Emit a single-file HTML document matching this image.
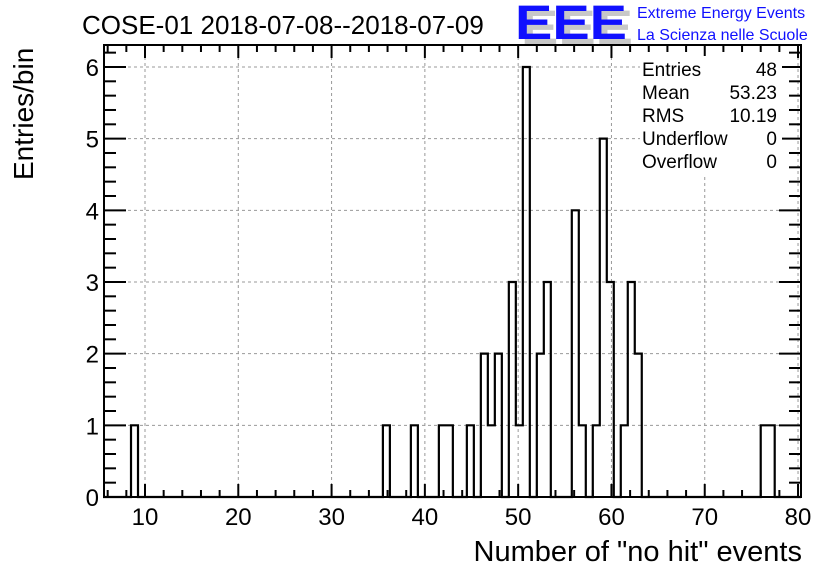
<!DOCTYPE html>
<html><head><meta charset="utf-8"><style>
body{margin:0;background:#fff;}
svg text{font-family:"Liberation Sans",sans-serif;}
</style></head><body>
<svg id="c" width="836" height="572" xmlns="http://www.w3.org/2000/svg">
<rect x="0" y="0" width="836" height="572" fill="#fff"/>
<g id="grid"></g>
<g id="bars"></g>
<g id="axes"></g>
<text x="82" y="34" font-size="26">COSE-01 2018-07-08--2018-07-09</text>
<g>
<text x="521" y="44" font-size="48" font-weight="bold" fill="#c8c8c8" textLength="112" lengthAdjust="spacingAndGlyphs">EEE</text>
<text x="515" y="39" font-size="48" font-weight="bold" fill="#1010ff" textLength="112" lengthAdjust="spacingAndGlyphs">EEE</text>
<text x="637" y="18" font-size="16" fill="#1010ff">Extreme Energy Events</text>
<text x="637" y="40" font-size="16" fill="#1010ff">La Scienza nelle Scuole</text>
</g>
<g>
<rect x="640" y="56" width="142" height="120" fill="#fff"/>
<text x="642" y="76" font-size="19">Entries</text><text x="777" y="76" font-size="19" text-anchor="end">48</text>
<text x="642" y="99" font-size="19">Mean</text><text x="777" y="99" font-size="19" text-anchor="end">53.23</text>
<text x="642" y="122" font-size="19">RMS</text><text x="777" y="122" font-size="19" text-anchor="end">10.19</text>
<text x="642" y="145" font-size="19">Underflow</text><text x="777" y="145" font-size="19" text-anchor="end">0</text>
<text x="642" y="168" font-size="19">Overflow</text><text x="777" y="168" font-size="19" text-anchor="end">0</text>
</g>
<text x="802" y="561" font-size="29" text-anchor="end">Number of "no hit" events</text>
<text transform="translate(33,180) rotate(-90)" font-size="28" text-anchor="start">Entries/bin</text>
</svg>
<script>
const binIndex = [4,40,44,48,49,52,54,55,56,58,59,60,62,63,67,68,70,71,72,74,75,76,94,95];
const binCounts = [1,1,1,1,1,1,2,1,2,3,1,6,2,3,4,1,1,5,3,1,3,2,1,1];
const xTicks = [10,20,30,40,50,60,70,80];
const yTicks = [0,1,2,3,4,5,6];
const binOrigin = 5.5, binWidth = 0.75, nBins = 100;

const L=104, R=801, T=45, B=497;
function X(v){return 145+(v-10)*9.329;}
function Y(v){return 497-v*71.67;}
const NS="http://www.w3.org/2000/svg";
function mk(tag,attrs,parent){const e=document.createElementNS(NS,tag);for(const k in attrs)e.setAttribute(k,attrs[k]);parent.appendChild(e);return e;}
const grid=document.getElementById('grid'),axes=document.getElementById('axes'),bars=document.getElementById('bars');
xTicks.forEach(t=>{const g=mk('line',{x1:X(t),x2:X(t),y1:T,y2:B,stroke:'#999','stroke-dasharray':'3,3','stroke-width':1},grid);

});
yTicks.forEach(t=>{if(t===0)return;const g=mk('line',{x1:L,x2:R,y1:Y(t),y2:Y(t),stroke:'#999','stroke-dasharray':'3,3','stroke-width':1},grid);

});
const counts=new Array(nBins).fill(0);
binIndex.forEach((k,i)=>{counts[k]=binCounts[i];});
let d='M'+X(binOrigin)+','+Y(0);
for(let k=0;k<nBins;k++){const x0=X(binOrigin+k*binWidth),x1=X(binOrigin+(k+1)*binWidth);
const x0c=Math.max(x0,L),x1c=Math.min(x1,R);if(x1c<=x0c)continue;
d+=' L'+x0c+','+Y(counts[k])+' L'+x1c+','+Y(counts[k]);}
const p=mk('path',{d:d,fill:'none',stroke:'#000','stroke-width':2.2},bars);


const fr=mk('rect',{x:L,y:T,width:R-L,height:B-T,fill:'none',stroke:'#000','stroke-width':2},axes);


for(let v=6;v<=80;v+=2){const maj=v%10===0;const len=maj?13:7;
mk('line',{x1:X(v),x2:X(v),y1:B,y2:B-len,stroke:'#000','stroke-width':2},axes);
mk('line',{x1:X(v),x2:X(v),y1:T,y2:T+len,stroke:'#000','stroke-width':2},axes);}
xTicks.forEach(t=>{const tx=mk('text',{x:X(t),y:525,'font-size':24,'text-anchor':'middle'},axes);tx.textContent=t;

});
for(let i=0;i<=31;i++){const v=i*0.2;if(Y(v)<T)break;const maj=i%5===0;const len=maj?22:12;
mk('line',{x1:L,x2:L+len,y1:Y(v),y2:Y(v),stroke:'#000','stroke-width':2},axes);
mk('line',{x1:R,x2:R-len,y1:Y(v),y2:Y(v),stroke:'#000','stroke-width':2},axes);}
yTicks.forEach(t=>{const tx=mk('text',{x:99,y:Y(t)+9,'font-size':24,'text-anchor':'end'},axes);tx.textContent=t;

});
</script>
</body></html>
